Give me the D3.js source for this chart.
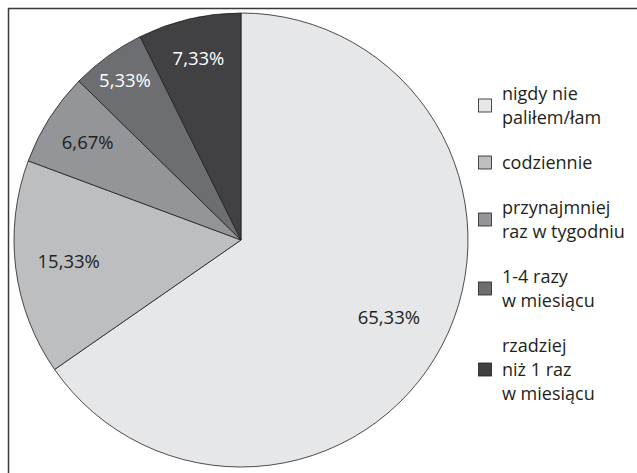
<!DOCTYPE html>
<html>
<head>
<meta charset="utf-8">
<script src="https://cdn.jsdelivr.net/npm/d3@7"></script>
<style>
  body { margin: 0; background: #fff; }
  svg text { font-family: "Open Sans", "Noto Sans", sans-serif; }
</style>
</head>
<body>
<div id="chart"></div>
<script>
const width = 637;
const height = 473;

// data
const categories = [
    ["nigdy nie", "paliłem/łam"],
    ["codziennie"],
    ["przynajmniej", "raz w tygodniu"],
    ["1-4 razy", "w miesiącu"],
    ["rzadziej", "niż 1 raz", "w miesiącu"]
];
const values = [65.33, 15.33, 6.67, 5.33, 7.33];
const labels = ["65,33%", "15,33%", "6,67%", "5,33%", "7,33%"];
const colors = ["#e6e7e8", "#bcbec0", "#939598", "#6d6e71", "#414042"];

const svg = d3.select("#chart")
    .append("svg")
    .attr("width", width)
    .attr("height", height);

// frame (only top and left edges are in view)
svg.append("rect")
    .attr("x", 8.5)
    .attr("y", 8.5)
    .attr("width", 700)
    .attr("height", 600)
    .attr("fill", "none")
    .attr("stroke", "#3a3a3a")
    .attr("stroke-width", 1.5);

const cx = 241, cy = 240, radius = 227;

const pie = d3.pie().sort(null).value(d => d);
const arcs = pie(values);

const arc = d3.arc().innerRadius(0).outerRadius(radius);
// label distance from centre, as a share of the radius (narrow slices push out)
const labelDist = [0.735, 0.765, 0.8, 0.87, 0.82];

const g = svg.append("g").attr("transform", `translate(${cx},${cy})`);

g.selectAll("path")
    .data(arcs)
    .join("path")
    .attr("d", arc)
    .attr("fill", (d, i) => colors[i])
    .attr("stroke", "#231f20")
    .attr("stroke-width", 0.8);

g.selectAll("text")
    .data(arcs)
    .join("text")
    .attr("transform", (d, i) => {
        const r = radius * labelDist[i];
        return `translate(${d3.arc().innerRadius(r).outerRadius(r).centroid(d)})`;
    })
    .attr("text-anchor", "middle")
    .attr("dy", "0.35em")
    .attr("font-size", 18.5)
    .attr("fill", (d, i) => i >= 3 ? "#ffffff" : "#231f20")
    .text((d, i) => labels[i]);

// legend
const lineH = 24, step = 45;
const legend = svg.append("g");
let base = 100;
categories.forEach((lines, i) => {
    const last = base + (lines.length - 1) * lineH;
    const item = legend.append("g");
    item.append("rect")
        .attr("x", 478.5)
        .attr("y", (base + last) / 2 - 13)
        .attr("width", 13)
        .attr("height", 13)
        .attr("fill", colors[i])
        .attr("stroke", "#231f20")
        .attr("stroke-width", 0.8);
    lines.forEach((t, j) => {
        item.append("text")
            .attr("x", 502)
            .attr("y", base + j * lineH)
            .attr("font-size", 18)
            .attr("fill", "#231f20")
            .text(t);
    });
    base = last + step;
});
</script>
</body>
</html>
